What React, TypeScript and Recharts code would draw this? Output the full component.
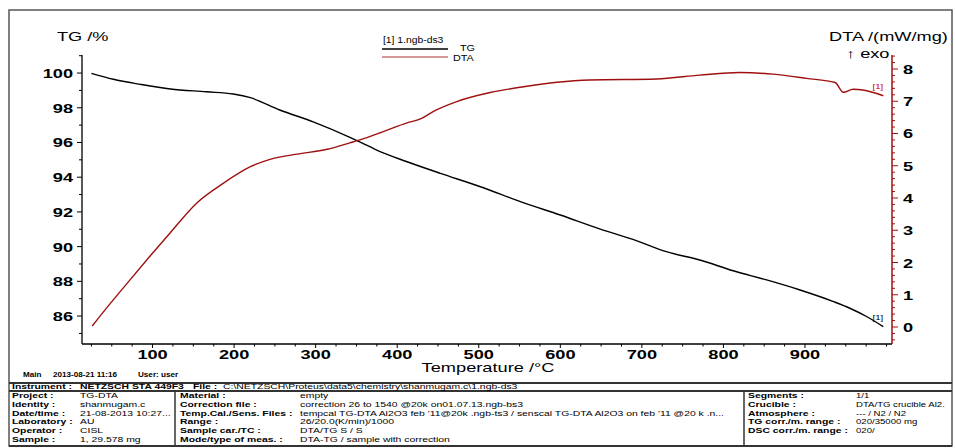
import React from "react";
import {
  ComposedChart,
  Line,
  XAxis,
  YAxis,
  ReferenceDot,
} from "recharts";

// TG curve (temperature °C -> mass %)
const tgTemp = [25, 52, 85, 122, 166, 199, 220, 256, 297, 342, 354, 379, 412, 453, 502, 551, 600, 649, 689, 730, 771, 812, 853, 894, 935, 955, 976, 996];
const tgValues = [99.98, 99.64, 99.35, 99.08, 98.92, 98.79, 98.58, 97.87, 97.19, 96.3, 96.04, 95.47, 94.89, 94.22, 93.45, 92.59, 91.82, 91.01, 90.42, 89.71, 89.23, 88.61, 88.08, 87.5, 86.83, 86.45, 85.96, 85.39];

// DTA curve (temperature °C -> mW/mg)
const dtaTemp = [26, 44, 68, 97, 122, 154, 187, 220, 244, 277, 314, 342, 354, 383, 412, 430, 444, 473, 514, 555, 596, 636, 718, 771, 820, 861, 902, 937, 947, 959, 971, 996];
const dtaValues = [0.03, 0.6, 1.33, 2.2, 2.93, 3.84, 4.46, 4.97, 5.2, 5.36, 5.51, 5.71, 5.8, 6.06, 6.33, 6.47, 6.68, 6.99, 7.27, 7.45, 7.59, 7.66, 7.69, 7.81, 7.89, 7.84, 7.71, 7.58, 7.28, 7.37, 7.35, 7.17];

// labelled ticks
const tempLabels = [100, 200, 300, 400, 500, 600, 700, 800, 900];
const tgLabels = [86, 88, 90, 92, 94, 96, 98, 100];
const dtaLabels = [0, 1, 2, 3, 4, 5, 6, 7, 8];

const tgData = tgTemp.map((t, i) => ({ t, tg: tgValues[i] }));
const dtaData = dtaTemp.map((t, i) => ({ t, dta: dtaValues[i] }));

// minor tick positions
const tempTicks: number[] = [];
for (let v = 25; v <= 1000; v += 25) tempTicks.push(v);
const tgTicks: number[] = [];
for (let v = 85; v <= 101; v++) tgTicks.push(v);
const dtaTicks: number[] = [];
for (let i = -2; i <= 42; i++) dtaTicks.push(Math.round(i * 2) / 10);

const FONT = "'Liberation Sans', Arial, sans-serif";
const SX = 1.4; // the whole picture is stretched sideways
const DTA_RED = "#9e1010";

function Wide(props: {
  x: number;
  y: number;
  size: number;
  anchor?: "start" | "middle" | "end";
  bold?: boolean;
  fill?: string;
  sx?: number;
  children: React.ReactNode;
}) {
  const { x, y, size, anchor = "start", bold, fill = "#000", sx = SX } = props;
  return (
    <text
      transform={`translate(${x} ${y}) scale(${sx} 1)`}
      fontFamily={FONT}
      fontSize={size}
      fontWeight={bold ? "bold" : "normal"}
      textAnchor={anchor}
      fill={fill}
    >
      {props.children}
    </text>
  );
}

const BottomTick = (p: any) => {
  const v = p.payload.value;
  const major = tempLabels.includes(v);
  return (
    <g>
      <line x1={p.x} x2={p.x} y1={p.y} y2={p.y + (major ? 4 : 2.5)} stroke="#000" strokeWidth={1} />
      {major && (
        <Wide x={p.x} y={p.y + 15} size={13} anchor="middle" bold>
          {v}
        </Wide>
      )}
    </g>
  );
};

const LeftTick = (p: any) => {
  const v = p.payload.value;
  const major = tgLabels.includes(v);
  return (
    <g>
      <line x1={p.x} x2={p.x - (major ? 5 : 3)} y1={p.y} y2={p.y} stroke="#000" strokeWidth={1} />
      {major && (
        <Wide x={p.x - 9} y={p.y + 5} size={13} anchor="end" bold>
          {v}
        </Wide>
      )}
    </g>
  );
};

const RightTick = (p: any) => {
  const v = p.payload.value;
  const major = dtaLabels.includes(v);
  return (
    <g>
      <line x1={p.x} x2={p.x + (major ? 6 : 3)} y1={p.y} y2={p.y} stroke={DTA_RED} strokeWidth={1} />
      {major && (
        <Wide x={p.x + 11} y={p.y + 5} size={13} bold>
          {v}
        </Wide>
      )}
    </g>
  );
};

const endMark = (color: string) => (p: any) =>
  (
    <Wide x={p.cx} y={p.cy - 7} size={8} anchor="end" fill={color} sx={1.2}>
      [1]
    </Wide>
  );

type Cell = { x: number; text: string; bold?: boolean };
const tableRows: { y: number; cells: Cell[] }[] = [
  { y: 398, cells: [
    { x: 12, text: "Project :", bold: true }, { x: 80, text: "TG-DTA" },
    { x: 180, text: "Material :", bold: true }, { x: 300, text: "empty" },
    { x: 748, text: "Segments :", bold: true }, { x: 856, text: "1/1" },
  ] },
  { y: 407, cells: [
    { x: 12, text: "Identity :", bold: true }, { x: 80, text: "shanmugam.c" },
    { x: 180, text: "Correction file :", bold: true }, { x: 300, text: "correction 26 to 1540 @20k on01.07.13.ngb-bs3" },
    { x: 748, text: "Crucible :", bold: true }, { x: 856, text: "DTA/TG crucible Al2." },
  ] },
  { y: 415.5, cells: [
    { x: 12, text: "Date/time :", bold: true }, { x: 80, text: "21-08-2013 10:27..." },
    { x: 180, text: "Temp.Cal./Sens. Files :", bold: true }, { x: 300, text: "tempcal TG-DTA Al2O3 feb '11@20k .ngb-ts3 / senscal TG-DTA Al2O3 on feb '11 @20 k .n..." },
    { x: 748, text: "Atmosphere :", bold: true }, { x: 856, text: "--- / N2 / N2" },
  ] },
  { y: 424, cells: [
    { x: 12, text: "Laboratory :", bold: true }, { x: 80, text: "AU" },
    { x: 180, text: "Range :", bold: true }, { x: 300, text: "26/20.0(K/min)/1000" },
    { x: 748, text: "TG corr./m. range :", bold: true }, { x: 856, text: "020/35000 mg" },
  ] },
  { y: 433, cells: [
    { x: 12, text: "Operator :", bold: true }, { x: 80, text: "CISL" },
    { x: 180, text: "Sample car./TC :", bold: true }, { x: 300, text: "DTA/TG S / S" },
    { x: 748, text: "DSC corr./m. range :", bold: true }, { x: 856, text: "020/" },
  ] },
  { y: 442, cells: [
    { x: 12, text: "Sample :", bold: true }, { x: 80, text: "1, 29.578 mg" },
    { x: 180, text: "Mode/type of meas. :", bold: true }, { x: 300, text: "DTA-TG / sample with correction" },
  ] },
];

export default function App() {
  return (
    <div
      style={{
        position: "fixed",
        left: 0,
        top: 0,
        width: 955,
        height: 448,
        background: "#fff",
        overflow: "hidden",
      }}
    >
      <ComposedChart
        width={955}
        height={448}
        margin={{ top: 55, right: 0, bottom: 0, left: 0 }}
      >
        <XAxis
          type="number"
          dataKey="t"
          domain={[13.5, 1006.7]}
          ticks={tempTicks}
          interval={0}
          height={104}
          tickSize={0}
          tickMargin={0}
          tickLine={false}
          tick={BottomTick}
          axisLine={{ stroke: "#000", strokeWidth: 1.5 }}
          allowDataOverflow
        />
        <YAxis
          yAxisId="tg"
          type="number"
          domain={[84.39, 101.04]}
          ticks={tgTicks}
          interval={0}
          width={82}
          tickSize={0}
          tickMargin={0}
          tickLine={false}
          tick={LeftTick}
          axisLine={{ stroke: "#222", strokeWidth: 1.5 }}
          allowDataOverflow
        />
        <YAxis
          yAxisId="dta"
          orientation="right"
          type="number"
          domain={[-0.527, 8.434]}
          ticks={dtaTicks}
          interval={0}
          width={63}
          tickSize={0}
          tickMargin={0}
          tickLine={false}
          tick={RightTick}
          axisLine={{ stroke: DTA_RED, strokeWidth: 1.5 }}
          allowDataOverflow
        />
        <Line
          yAxisId="tg"
          data={tgData}
          dataKey="tg"
          type="monotone"
          stroke="#000"
          strokeWidth={1.4}
          dot={false}
          isAnimationActive={false}
        />
        <Line
          yAxisId="dta"
          data={dtaData}
          dataKey="dta"
          type="monotone"
          stroke={DTA_RED}
          strokeWidth={1.4}
          dot={false}
          isAnimationActive={false}
        />
        <ReferenceDot
          yAxisId="tg"
          x={tgTemp[tgTemp.length - 1]}
          y={tgValues[tgValues.length - 1]}
          r={0}
          shape={endMark("#000")}
        />
        <ReferenceDot
          yAxisId="dta"
          x={dtaTemp[dtaTemp.length - 1]}
          y={dtaValues[dtaValues.length - 1]}
          r={0}
          shape={endMark("#d00000")}
        />
      </ComposedChart>

      <svg
        width={955}
        height={448}
        style={{ position: "absolute", left: 0, top: 0, pointerEvents: "none" }}
      >
        {/* outer frame */}
        <rect x={9} y={10} width={943} height={436} fill="none" stroke="#555" strokeWidth={1.5} />

        {/* axis titles */}
        <Wide x={57} y={41} size={13}>TG /%</Wide>
        <Wide x={829} y={41} size={13}>DTA /(mW/mg)</Wide>
        <Wide x={846} y={58} size={13}>↑ exo</Wide>
        <Wide x={488} y={372} size={12} anchor="middle" sx={1.52}>Temperature /°C</Wide>

        {/* legend */}
        <Wide x={383} y={43} size={9} sx={1.15}>[1] 1.ngb-ds3</Wide>
        <line x1={382} x2={448} y1={49} y2={49} stroke="#000" strokeWidth={1.5} />
        <Wide x={460} y={51} size={9} sx={1.2}>TG</Wide>
        <line x1={382} x2={448} y1={57} y2={57} stroke="#b03030" strokeWidth={1.2} />
        <Wide x={453} y={61} size={9} sx={1.2}>DTA</Wide>

        {/* footer line */}
        <Wide x={23} y={377} size={6.5} bold sx={1.25}>Main</Wide>
        <Wide x={53} y={377} size={6.5} bold sx={1.25}>2013-08-21 11:16</Wide>
        <Wide x={138} y={377} size={6.5} bold sx={1.25}>User: user</Wide>

        {/* info table */}
        <line x1={9} x2={952} y1={383} y2={383} stroke="#333" strokeWidth={2} />
        <line x1={9} x2={952} y1={391} y2={391} stroke="#333" strokeWidth={2} />
        <line x1={9} x2={952} y1={446} y2={446} stroke="#333" strokeWidth={2} />
        <line x1={175} x2={175} y1={391} y2={446} stroke="#333" strokeWidth={1.5} />
        <line x1={744} x2={744} y1={391} y2={446} stroke="#333" strokeWidth={1.5} />

        <Wide x={12} y={389} size={8} bold sx={1.3}>Instrument :</Wide>
        <Wide x={80} y={389} size={8} bold sx={1.3}>NETZSCH STA 449F3</Wide>
        <Wide x={193} y={389} size={8} bold sx={1.3}>File :</Wide>
        <Wide x={223} y={389} size={8} sx={1.3}>C:\NETZSCH\Proteus\data5\chemistry\shanmugam.c\1.ngb-ds3</Wide>

        {tableRows.map((row) =>
          row.cells.map((c, i) => (
            <Wide key={`${row.y}-${i}`} x={c.x} y={row.y} size={8} bold={c.bold} sx={c.x >= 856 ? 1.2 : 1.3}>
              {c.text}
            </Wide>
          ))
        )}

        <Wide x={792} y={454} size={8} sx={1.3}>Created with NETZSCH Proteus software</Wide>
      </svg>
    </div>
  );
}
